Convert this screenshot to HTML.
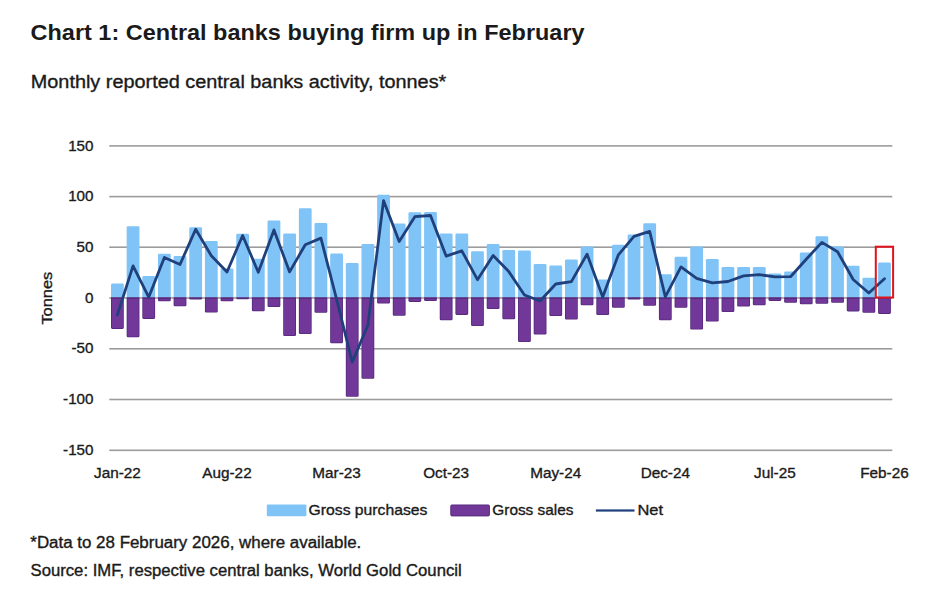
<!DOCTYPE html>
<html><head><meta charset="utf-8"><title>Chart 1</title>
<style>html,body{margin:0;padding:0;background:#fff;}svg{display:block;}text{font-family:"Liberation Sans", sans-serif;}text.r{stroke:#1a1a1a;stroke-width:0.35px;}</style>
</head><body>
<svg width="928" height="590" viewBox="0 0 928 590">
<rect width="928" height="590" fill="#ffffff"/>
<text x="30.6" y="39.7" font-family="Liberation Sans" font-weight="bold" font-size="22.6" fill="#1a1a1a" textLength="554" lengthAdjust="spacingAndGlyphs">Chart 1: Central banks buying firm up in February</text>
<text class="r" x="30.8" y="88.2" font-family="Liberation Sans" font-size="18" fill="#1a1a1a" textLength="415.5" lengthAdjust="spacingAndGlyphs">Monthly reported central banks activity, tonnes*</text>
<rect x="109.3" y="145.10" width="783" height="1.6" fill="#9c9c9c"/>
<text class="r" x="93.5" y="150.50" text-anchor="end" font-family="Liberation Sans" font-size="15.2" fill="#1a1a1a">150</text>
<rect x="109.3" y="195.80" width="783" height="1.6" fill="#9c9c9c"/>
<text class="r" x="93.5" y="201.20" text-anchor="end" font-family="Liberation Sans" font-size="15.2" fill="#1a1a1a">100</text>
<rect x="109.3" y="246.40" width="783" height="1.6" fill="#9c9c9c"/>
<text class="r" x="93.5" y="251.80" text-anchor="end" font-family="Liberation Sans" font-size="15.2" fill="#1a1a1a">50</text>
<rect x="109.3" y="297.20" width="783" height="1.6" fill="#9c9c9c"/>
<text class="r" x="93.5" y="302.60" text-anchor="end" font-family="Liberation Sans" font-size="15.2" fill="#1a1a1a">0</text>
<rect x="109.3" y="348.00" width="783" height="1.6" fill="#9c9c9c"/>
<text class="r" x="93.5" y="353.40" text-anchor="end" font-family="Liberation Sans" font-size="15.2" fill="#1a1a1a">-50</text>
<rect x="109.3" y="398.70" width="783" height="1.6" fill="#9c9c9c"/>
<text class="r" x="93.5" y="404.10" text-anchor="end" font-family="Liberation Sans" font-size="15.2" fill="#1a1a1a">-100</text>
<rect x="109.3" y="449.50" width="783" height="1.6" fill="#9c9c9c"/>
<text class="r" x="93.5" y="454.90" text-anchor="end" font-family="Liberation Sans" font-size="15.2" fill="#1a1a1a">-150</text>
<path d="M111.00,297.60V284.90Q111.00,283.60 112.30,283.60H122.50Q123.80,283.60 123.80,284.90V297.60Z" fill="#80c4f7"/>
<path d="M111.00,297.30V327.60Q111.00,328.90 112.30,328.90H122.50Q123.80,328.90 123.80,327.60V297.30Z" fill="#56297c"/>
<path d="M111.80,298.90V327.10Q111.80,328.10 112.80,328.10H122.00Q123.00,328.10 123.00,327.10V298.90Z" fill="#713899"/>
<path d="M126.66,297.60V227.60Q126.66,226.30 127.95,226.30H138.16Q139.46,226.30 139.46,227.60V297.60Z" fill="#80c4f7"/>
<path d="M126.66,297.30V335.90Q126.66,337.20 127.95,337.20H138.16Q139.46,337.20 139.46,335.90V297.30Z" fill="#56297c"/>
<path d="M127.45,298.90V335.40Q127.45,336.40 128.45,336.40H137.66Q138.66,336.40 138.66,335.40V298.90Z" fill="#713899"/>
<path d="M142.31,297.60V277.20Q142.31,275.90 143.61,275.90H153.81Q155.11,275.90 155.11,277.20V297.60Z" fill="#80c4f7"/>
<path d="M142.31,297.30V317.60Q142.31,318.90 143.61,318.90H153.81Q155.11,318.90 155.11,317.60V297.30Z" fill="#56297c"/>
<path d="M143.11,298.90V317.10Q143.11,318.10 144.11,318.10H153.31Q154.31,318.10 154.31,317.10V298.90Z" fill="#713899"/>
<path d="M157.97,297.60V255.00Q157.97,253.70 159.27,253.70H169.47Q170.77,253.70 170.77,255.00V297.60Z" fill="#80c4f7"/>
<path d="M157.97,297.30V300.00Q157.97,301.30 159.27,301.30H169.47Q170.77,301.30 170.77,300.00V297.30Z" fill="#56297c"/>
<path d="M158.77,298.90V299.50Q158.77,300.50 159.77,300.50H168.97Q169.97,300.50 169.97,299.50V298.90Z" fill="#713899"/>
<path d="M173.62,297.60V257.20Q173.62,255.90 174.92,255.90H185.12Q186.42,255.90 186.42,257.20V297.60Z" fill="#80c4f7"/>
<path d="M173.62,297.30V304.90Q173.62,306.20 174.92,306.20H185.12Q186.42,306.20 186.42,304.90V297.30Z" fill="#56297c"/>
<path d="M174.42,298.90V304.40Q174.42,305.40 175.42,305.40H184.62Q185.62,305.40 185.62,304.40V298.90Z" fill="#713899"/>
<path d="M189.27,297.60V228.50Q189.27,227.20 190.57,227.20H200.77Q202.07,227.20 202.07,228.50V297.60Z" fill="#80c4f7"/>
<path d="M189.27,297.30V298.30Q189.27,299.60 190.57,299.60H200.77Q202.07,299.60 202.07,298.30V297.30Z" fill="#56297c"/>
<path d="M204.93,297.60V242.20Q204.93,240.90 206.23,240.90H216.43Q217.73,240.90 217.73,242.20V297.60Z" fill="#80c4f7"/>
<path d="M204.93,297.30V311.20Q204.93,312.50 206.23,312.50H216.43Q217.73,312.50 217.73,311.20V297.30Z" fill="#56297c"/>
<path d="M205.73,298.90V310.70Q205.73,311.70 206.73,311.70H215.93Q216.93,311.70 216.93,310.70V298.90Z" fill="#713899"/>
<path d="M220.58,297.60V269.70Q220.58,268.40 221.88,268.40H232.08Q233.38,268.40 233.38,269.70V297.60Z" fill="#80c4f7"/>
<path d="M220.58,297.30V299.90Q220.58,301.20 221.88,301.20H232.08Q233.38,301.20 233.38,299.90V297.30Z" fill="#56297c"/>
<path d="M221.38,298.90V299.40Q221.38,300.40 222.38,300.40H231.58Q232.58,300.40 232.58,299.40V298.90Z" fill="#713899"/>
<path d="M236.24,297.60V235.10Q236.24,233.80 237.54,233.80H247.74Q249.04,233.80 249.04,235.10V297.60Z" fill="#80c4f7"/>
<path d="M236.24,297.30V298.00Q236.24,299.30 237.54,299.30H247.74Q249.04,299.30 249.04,298.00V297.30Z" fill="#56297c"/>
<path d="M251.89,297.60V260.00Q251.89,258.70 253.19,258.70H263.39Q264.69,258.70 264.69,260.00V297.60Z" fill="#80c4f7"/>
<path d="M251.89,297.30V309.90Q251.89,311.20 253.19,311.20H263.39Q264.69,311.20 264.69,309.90V297.30Z" fill="#56297c"/>
<path d="M252.69,298.90V309.40Q252.69,310.40 253.69,310.40H262.89Q263.89,310.40 263.89,309.40V298.90Z" fill="#713899"/>
<path d="M267.55,297.60V221.70Q267.55,220.40 268.85,220.40H279.05Q280.35,220.40 280.35,221.70V297.60Z" fill="#80c4f7"/>
<path d="M267.55,297.30V305.80Q267.55,307.10 268.85,307.10H279.05Q280.35,307.10 280.35,305.80V297.30Z" fill="#56297c"/>
<path d="M268.35,298.90V305.30Q268.35,306.30 269.35,306.30H278.55Q279.55,306.30 279.55,305.30V298.90Z" fill="#713899"/>
<path d="M283.20,297.60V234.80Q283.20,233.50 284.50,233.50H294.70Q296.00,233.50 296.00,234.80V297.60Z" fill="#80c4f7"/>
<path d="M283.20,297.30V334.70Q283.20,336.00 284.50,336.00H294.70Q296.00,336.00 296.00,334.70V297.30Z" fill="#56297c"/>
<path d="M284.00,298.90V334.20Q284.00,335.20 285.00,335.20H294.20Q295.20,335.20 295.20,334.20V298.90Z" fill="#713899"/>
<path d="M298.86,297.60V209.65Q298.86,208.35 300.16,208.35H310.36Q311.66,208.35 311.66,209.65V297.60Z" fill="#80c4f7"/>
<path d="M298.86,297.30V332.65Q298.86,333.95 300.16,333.95H310.36Q311.66,333.95 311.66,332.65V297.30Z" fill="#56297c"/>
<path d="M299.66,298.90V332.15Q299.66,333.15 300.66,333.15H309.86Q310.86,333.15 310.86,332.15V298.90Z" fill="#713899"/>
<path d="M314.51,297.60V224.30Q314.51,223.00 315.81,223.00H326.01Q327.31,223.00 327.31,224.30V297.60Z" fill="#80c4f7"/>
<path d="M314.51,297.30V311.40Q314.51,312.70 315.81,312.70H326.01Q327.31,312.70 327.31,311.40V297.30Z" fill="#56297c"/>
<path d="M315.31,298.90V310.90Q315.31,311.90 316.31,311.90H325.51Q326.51,311.90 326.51,310.90V298.90Z" fill="#713899"/>
<path d="M330.17,297.60V254.90Q330.17,253.60 331.47,253.60H341.67Q342.97,253.60 342.97,254.90V297.60Z" fill="#80c4f7"/>
<path d="M330.17,297.30V341.90Q330.17,343.20 331.47,343.20H341.67Q342.97,343.20 342.97,341.90V297.30Z" fill="#56297c"/>
<path d="M330.97,298.90V341.40Q330.97,342.40 331.97,342.40H341.17Q342.17,342.40 342.17,341.40V298.90Z" fill="#713899"/>
<path d="M345.82,297.60V264.30Q345.82,263.00 347.12,263.00H357.32Q358.62,263.00 358.62,264.30V297.60Z" fill="#80c4f7"/>
<path d="M345.82,297.30V395.40Q345.82,396.70 347.12,396.70H357.32Q358.62,396.70 358.62,395.40V297.30Z" fill="#56297c"/>
<path d="M346.62,298.90V394.90Q346.62,395.90 347.62,395.90H356.82Q357.82,395.90 357.82,394.90V298.90Z" fill="#713899"/>
<path d="M361.48,297.60V245.30Q361.48,244.00 362.78,244.00H372.98Q374.28,244.00 374.28,245.30V297.60Z" fill="#80c4f7"/>
<path d="M361.48,297.30V377.50Q361.48,378.80 362.78,378.80H372.98Q374.28,378.80 374.28,377.50V297.30Z" fill="#56297c"/>
<path d="M362.28,298.90V377.00Q362.28,378.00 363.28,378.00H372.48Q373.48,378.00 373.48,377.00V298.90Z" fill="#713899"/>
<path d="M377.13,297.60V196.00Q377.13,194.70 378.44,194.70H388.63Q389.94,194.70 389.94,196.00V297.60Z" fill="#80c4f7"/>
<path d="M377.13,297.30V302.20Q377.13,303.50 378.44,303.50H388.63Q389.94,303.50 389.94,302.20V297.30Z" fill="#56297c"/>
<path d="M377.94,298.90V301.70Q377.94,302.70 378.94,302.70H388.13Q389.13,302.70 389.13,301.70V298.90Z" fill="#713899"/>
<path d="M392.79,297.60V224.70Q392.79,223.40 394.09,223.40H404.29Q405.59,223.40 405.59,224.70V297.60Z" fill="#80c4f7"/>
<path d="M392.79,297.30V314.40Q392.79,315.70 394.09,315.70H404.29Q405.59,315.70 405.59,314.40V297.30Z" fill="#56297c"/>
<path d="M393.59,298.90V313.90Q393.59,314.90 394.59,314.90H403.79Q404.79,314.90 404.79,313.90V298.90Z" fill="#713899"/>
<path d="M408.44,297.60V213.65Q408.44,212.35 409.75,212.35H419.94Q421.25,212.35 421.25,213.65V297.60Z" fill="#80c4f7"/>
<path d="M408.44,297.30V300.60Q408.44,301.90 409.75,301.90H419.94Q421.25,301.90 421.25,300.60V297.30Z" fill="#56297c"/>
<path d="M409.25,298.90V300.10Q409.25,301.10 410.25,301.10H419.44Q420.44,301.10 420.44,300.10V298.90Z" fill="#713899"/>
<path d="M424.10,297.60V213.30Q424.10,212.00 425.40,212.00H435.60Q436.90,212.00 436.90,213.30V297.60Z" fill="#80c4f7"/>
<path d="M424.10,297.30V299.80Q424.10,301.10 425.40,301.10H435.60Q436.90,301.10 436.90,299.80V297.30Z" fill="#56297c"/>
<path d="M424.90,298.90V299.30Q424.90,300.30 425.90,300.30H435.10Q436.10,300.30 436.10,299.30V298.90Z" fill="#713899"/>
<path d="M439.75,297.60V234.80Q439.75,233.50 441.06,233.50H451.25Q452.56,233.50 452.56,234.80V297.60Z" fill="#80c4f7"/>
<path d="M439.75,297.30V318.90Q439.75,320.20 441.06,320.20H451.25Q452.56,320.20 452.56,318.90V297.30Z" fill="#56297c"/>
<path d="M440.56,298.90V318.40Q440.56,319.40 441.56,319.40H450.75Q451.75,319.40 451.75,318.40V298.90Z" fill="#713899"/>
<path d="M455.41,297.60V234.80Q455.41,233.50 456.71,233.50H466.91Q468.21,233.50 468.21,234.80V297.60Z" fill="#80c4f7"/>
<path d="M455.41,297.30V313.60Q455.41,314.90 456.71,314.90H466.91Q468.21,314.90 468.21,313.60V297.30Z" fill="#56297c"/>
<path d="M456.21,298.90V313.10Q456.21,314.10 457.21,314.10H466.41Q467.41,314.10 467.41,313.10V298.90Z" fill="#713899"/>
<path d="M471.06,297.60V252.50Q471.06,251.20 472.37,251.20H482.56Q483.87,251.20 483.87,252.50V297.60Z" fill="#80c4f7"/>
<path d="M471.06,297.30V324.80Q471.06,326.10 472.37,326.10H482.56Q483.87,326.10 483.87,324.80V297.30Z" fill="#56297c"/>
<path d="M471.87,298.90V324.30Q471.87,325.30 472.87,325.30H482.06Q483.06,325.30 483.06,324.30V298.90Z" fill="#713899"/>
<path d="M486.72,297.60V245.40Q486.72,244.10 488.02,244.10H498.22Q499.52,244.10 499.52,245.40V297.60Z" fill="#80c4f7"/>
<path d="M486.72,297.30V307.70Q486.72,309.00 488.02,309.00H498.22Q499.52,309.00 499.52,307.70V297.30Z" fill="#56297c"/>
<path d="M487.52,298.90V307.20Q487.52,308.20 488.52,308.20H497.72Q498.72,308.20 498.72,307.20V298.90Z" fill="#713899"/>
<path d="M502.38,297.60V251.30Q502.38,250.00 503.68,250.00H513.88Q515.17,250.00 515.17,251.30V297.60Z" fill="#80c4f7"/>
<path d="M502.38,297.30V317.90Q502.38,319.20 503.68,319.20H513.88Q515.17,319.20 515.17,317.90V297.30Z" fill="#56297c"/>
<path d="M503.18,298.90V317.40Q503.18,318.40 504.18,318.40H513.38Q514.38,318.40 514.38,317.40V298.90Z" fill="#713899"/>
<path d="M518.03,297.60V251.90Q518.03,250.60 519.33,250.60H529.53Q530.83,250.60 530.83,251.90V297.60Z" fill="#80c4f7"/>
<path d="M518.03,297.30V340.70Q518.03,342.00 519.33,342.00H529.53Q530.83,342.00 530.83,340.70V297.30Z" fill="#56297c"/>
<path d="M518.83,298.90V340.20Q518.83,341.20 519.83,341.20H529.03Q530.03,341.20 530.03,340.20V298.90Z" fill="#713899"/>
<path d="M533.68,297.60V265.35Q533.68,264.05 534.98,264.05H545.18Q546.48,264.05 546.48,265.35V297.60Z" fill="#80c4f7"/>
<path d="M533.68,297.30V333.20Q533.68,334.50 534.98,334.50H545.18Q546.48,334.50 546.48,333.20V297.30Z" fill="#56297c"/>
<path d="M534.48,298.90V332.70Q534.48,333.70 535.48,333.70H544.68Q545.68,333.70 545.68,332.70V298.90Z" fill="#713899"/>
<path d="M549.34,297.60V266.90Q549.34,265.60 550.64,265.60H560.84Q562.14,265.60 562.14,266.90V297.60Z" fill="#80c4f7"/>
<path d="M549.34,297.30V314.70Q549.34,316.00 550.64,316.00H560.84Q562.14,316.00 562.14,314.70V297.30Z" fill="#56297c"/>
<path d="M550.14,298.90V314.20Q550.14,315.20 551.14,315.20H560.34Q561.34,315.20 561.34,314.20V298.90Z" fill="#713899"/>
<path d="M565.00,297.60V260.90Q565.00,259.60 566.29,259.60H576.50Q577.79,259.60 577.79,260.90V297.60Z" fill="#80c4f7"/>
<path d="M565.00,297.30V318.30Q565.00,319.60 566.29,319.60H576.50Q577.79,319.60 577.79,318.30V297.30Z" fill="#56297c"/>
<path d="M565.79,298.90V317.80Q565.79,318.80 566.79,318.80H576.00Q577.00,318.80 577.00,317.80V298.90Z" fill="#713899"/>
<path d="M580.65,297.60V247.80Q580.65,246.50 581.95,246.50H592.15Q593.45,246.50 593.45,247.80V297.60Z" fill="#80c4f7"/>
<path d="M580.65,297.30V303.90Q580.65,305.20 581.95,305.20H592.15Q593.45,305.20 593.45,303.90V297.30Z" fill="#56297c"/>
<path d="M581.45,298.90V303.40Q581.45,304.40 582.45,304.40H591.65Q592.65,304.40 592.65,303.40V298.90Z" fill="#713899"/>
<path d="M596.31,297.60V280.90Q596.31,279.60 597.61,279.60H607.81Q609.11,279.60 609.11,280.90V297.60Z" fill="#80c4f7"/>
<path d="M596.31,297.30V313.80Q596.31,315.10 597.61,315.10H607.81Q609.11,315.10 609.11,313.80V297.30Z" fill="#56297c"/>
<path d="M597.11,298.90V313.30Q597.11,314.30 598.11,314.30H607.31Q608.31,314.30 608.31,313.30V298.90Z" fill="#713899"/>
<path d="M611.96,297.60V246.00Q611.96,244.70 613.26,244.70H623.46Q624.76,244.70 624.76,246.00V297.60Z" fill="#80c4f7"/>
<path d="M611.96,297.30V306.40Q611.96,307.70 613.26,307.70H623.46Q624.76,307.70 624.76,306.40V297.30Z" fill="#56297c"/>
<path d="M612.76,298.90V305.90Q612.76,306.90 613.76,306.90H622.96Q623.96,306.90 623.96,305.90V298.90Z" fill="#713899"/>
<path d="M627.62,297.60V235.70Q627.62,234.40 628.91,234.40H639.12Q640.41,234.40 640.41,235.70V297.60Z" fill="#80c4f7"/>
<path d="M627.62,297.30V298.30Q627.62,299.60 628.91,299.60H639.12Q640.41,299.60 640.41,298.30V297.30Z" fill="#56297c"/>
<path d="M643.27,297.60V224.50Q643.27,223.20 644.57,223.20H654.77Q656.07,223.20 656.07,224.50V297.60Z" fill="#80c4f7"/>
<path d="M643.27,297.30V304.50Q643.27,305.80 644.57,305.80H654.77Q656.07,305.80 656.07,304.50V297.30Z" fill="#56297c"/>
<path d="M644.07,298.90V304.00Q644.07,305.00 645.07,305.00H654.27Q655.27,305.00 655.27,304.00V298.90Z" fill="#713899"/>
<path d="M658.92,297.60V275.60Q658.92,274.30 660.22,274.30H670.42Q671.72,274.30 671.72,275.60V297.60Z" fill="#80c4f7"/>
<path d="M658.92,297.30V318.90Q658.92,320.20 660.22,320.20H670.42Q671.72,320.20 671.72,318.90V297.30Z" fill="#56297c"/>
<path d="M659.72,298.90V318.40Q659.72,319.40 660.72,319.40H669.92Q670.92,319.40 670.92,318.40V298.90Z" fill="#713899"/>
<path d="M674.58,297.60V258.10Q674.58,256.80 675.88,256.80H686.08Q687.38,256.80 687.38,258.10V297.60Z" fill="#80c4f7"/>
<path d="M674.58,297.30V306.40Q674.58,307.70 675.88,307.70H686.08Q687.38,307.70 687.38,306.40V297.30Z" fill="#56297c"/>
<path d="M675.38,298.90V305.90Q675.38,306.90 676.38,306.90H685.58Q686.58,306.90 686.58,305.90V298.90Z" fill="#713899"/>
<path d="M690.24,297.60V247.80Q690.24,246.50 691.53,246.50H701.74Q703.03,246.50 703.03,247.80V297.60Z" fill="#80c4f7"/>
<path d="M690.24,297.30V328.20Q690.24,329.50 691.53,329.50H701.74Q703.03,329.50 703.03,328.20V297.30Z" fill="#56297c"/>
<path d="M691.03,298.90V327.70Q691.03,328.70 692.03,328.70H701.24Q702.24,328.70 702.24,327.70V298.90Z" fill="#713899"/>
<path d="M705.89,297.60V260.30Q705.89,259.00 707.19,259.00H717.39Q718.69,259.00 718.69,260.30V297.60Z" fill="#80c4f7"/>
<path d="M705.89,297.30V320.20Q705.89,321.50 707.19,321.50H717.39Q718.69,321.50 718.69,320.20V297.30Z" fill="#56297c"/>
<path d="M706.69,298.90V319.70Q706.69,320.70 707.69,320.70H716.89Q717.89,320.70 717.89,319.70V298.90Z" fill="#713899"/>
<path d="M721.54,297.60V268.30Q721.54,267.00 722.84,267.00H733.04Q734.34,267.00 734.34,268.30V297.60Z" fill="#80c4f7"/>
<path d="M721.54,297.30V310.80Q721.54,312.10 722.84,312.10H733.04Q734.34,312.10 734.34,310.80V297.30Z" fill="#56297c"/>
<path d="M722.34,298.90V310.30Q722.34,311.30 723.34,311.30H732.54Q733.54,311.30 733.54,310.30V298.90Z" fill="#713899"/>
<path d="M737.20,297.60V268.30Q737.20,267.00 738.50,267.00H748.70Q750.00,267.00 750.00,268.30V297.60Z" fill="#80c4f7"/>
<path d="M737.20,297.30V305.20Q737.20,306.50 738.50,306.50H748.70Q750.00,306.50 750.00,305.20V297.30Z" fill="#56297c"/>
<path d="M738.00,298.90V304.70Q738.00,305.70 739.00,305.70H748.20Q749.20,305.70 749.20,304.70V298.90Z" fill="#713899"/>
<path d="M752.86,297.60V268.30Q752.86,267.00 754.15,267.00H764.36Q765.65,267.00 765.65,268.30V297.60Z" fill="#80c4f7"/>
<path d="M752.86,297.30V303.90Q752.86,305.20 754.15,305.20H764.36Q765.65,305.20 765.65,303.90V297.30Z" fill="#56297c"/>
<path d="M753.65,298.90V303.40Q753.65,304.40 754.65,304.40H763.86Q764.86,304.40 764.86,303.40V298.90Z" fill="#713899"/>
<path d="M768.51,297.60V274.90Q768.51,273.60 769.81,273.60H780.01Q781.31,273.60 781.31,274.90V297.60Z" fill="#80c4f7"/>
<path d="M768.51,297.30V299.60Q768.51,300.90 769.81,300.90H780.01Q781.31,300.90 781.31,299.60V297.30Z" fill="#56297c"/>
<path d="M769.31,298.90V299.10Q769.31,300.10 770.31,300.10H779.51Q780.51,300.10 780.51,299.10V298.90Z" fill="#713899"/>
<path d="M784.16,297.60V272.80Q784.16,271.50 785.46,271.50H795.66Q796.96,271.50 796.96,272.80V297.60Z" fill="#80c4f7"/>
<path d="M784.16,297.30V301.50Q784.16,302.80 785.46,302.80H795.66Q796.96,302.80 796.96,301.50V297.30Z" fill="#56297c"/>
<path d="M784.96,298.90V301.00Q784.96,302.00 785.96,302.00H795.16Q796.16,302.00 796.16,301.00V298.90Z" fill="#713899"/>
<path d="M799.82,297.60V253.80Q799.82,252.50 801.12,252.50H811.32Q812.62,252.50 812.62,253.80V297.60Z" fill="#80c4f7"/>
<path d="M799.82,297.30V303.00Q799.82,304.30 801.12,304.30H811.32Q812.62,304.30 812.62,303.00V297.30Z" fill="#56297c"/>
<path d="M800.62,298.90V302.50Q800.62,303.50 801.62,303.50H810.82Q811.82,303.50 811.82,302.50V298.90Z" fill="#713899"/>
<path d="M815.48,297.60V237.60Q815.48,236.30 816.77,236.30H826.98Q828.27,236.30 828.27,237.60V297.60Z" fill="#80c4f7"/>
<path d="M815.48,297.30V302.40Q815.48,303.70 816.77,303.70H826.98Q828.27,303.70 828.27,302.40V297.30Z" fill="#56297c"/>
<path d="M816.27,298.90V301.90Q816.27,302.90 817.27,302.90H826.48Q827.48,302.90 827.48,301.90V298.90Z" fill="#713899"/>
<path d="M831.13,297.60V247.80Q831.13,246.50 832.43,246.50H842.63Q843.93,246.50 843.93,247.80V297.60Z" fill="#80c4f7"/>
<path d="M831.13,297.30V301.50Q831.13,302.80 832.43,302.80H842.63Q843.93,302.80 843.93,301.50V297.30Z" fill="#56297c"/>
<path d="M831.93,298.90V301.00Q831.93,302.00 832.93,302.00H842.13Q843.13,302.00 843.13,301.00V298.90Z" fill="#713899"/>
<path d="M846.78,297.60V267.00Q846.78,265.70 848.08,265.70H858.28Q859.58,265.70 859.58,267.00V297.60Z" fill="#80c4f7"/>
<path d="M846.78,297.30V310.10Q846.78,311.40 848.08,311.40H858.28Q859.58,311.40 859.58,310.10V297.30Z" fill="#56297c"/>
<path d="M847.58,298.90V309.60Q847.58,310.60 848.58,310.60H857.78Q858.78,310.60 858.78,309.60V298.90Z" fill="#713899"/>
<path d="M862.44,297.60V279.15Q862.44,277.85 863.74,277.85H873.94Q875.24,277.85 875.24,279.15V297.60Z" fill="#80c4f7"/>
<path d="M862.44,297.30V311.50Q862.44,312.80 863.74,312.80H873.94Q875.24,312.80 875.24,311.50V297.30Z" fill="#56297c"/>
<path d="M863.24,298.90V311.00Q863.24,312.00 864.24,312.00H873.44Q874.44,312.00 874.44,311.00V298.90Z" fill="#713899"/>
<path d="M878.09,297.60V263.75Q878.09,262.45 879.39,262.45H889.59Q890.89,262.45 890.89,263.75V297.60Z" fill="#80c4f7"/>
<path d="M878.09,297.30V312.60Q878.09,313.90 879.39,313.90H889.59Q890.89,313.90 890.89,312.60V297.30Z" fill="#56297c"/>
<path d="M878.89,298.90V312.10Q878.89,313.10 879.89,313.10H889.09Q890.09,313.10 890.09,312.10V298.90Z" fill="#713899"/>
<polyline points="117.40,314.90 133.06,265.90 148.71,297.20 164.37,257.40 180.02,264.50 195.68,229.20 211.33,255.80 226.99,272.00 242.64,235.50 258.29,272.30 273.95,229.90 289.61,271.90 305.26,244.70 320.91,238.10 336.57,299.20 352.23,362.10 367.88,325.20 383.53,200.60 399.19,241.50 414.85,216.65 430.50,215.50 446.15,256.10 461.81,250.80 477.47,279.70 493.12,255.50 508.77,271.60 524.43,295.00 540.09,300.95 555.74,284.00 571.39,281.60 587.05,254.10 602.71,297.10 618.36,254.80 634.01,236.40 649.67,231.40 665.32,296.90 680.98,266.90 696.63,278.40 712.29,282.90 727.94,281.50 743.60,275.90 759.25,274.60 774.91,276.90 790.56,276.70 806.22,259.20 821.88,242.40 837.53,251.70 853.18,279.50 868.84,293.05 884.49,278.75" fill="none" stroke="#20407c" stroke-width="2.8" stroke-linejoin="round" stroke-linecap="round"/>
<rect x="875.8" y="246.7" width="17.3" height="50.8" fill="none" stroke="#e3131b" stroke-width="2"/>
<text class="r" x="117.40" y="478.2" text-anchor="middle" font-family="Liberation Sans" font-size="15.3" fill="#1a1a1a">Jan-22</text>
<text class="r" x="226.99" y="478.2" text-anchor="middle" font-family="Liberation Sans" font-size="15.3" fill="#1a1a1a">Aug-22</text>
<text class="r" x="336.57" y="478.2" text-anchor="middle" font-family="Liberation Sans" font-size="15.3" fill="#1a1a1a">Mar-23</text>
<text class="r" x="446.15" y="478.2" text-anchor="middle" font-family="Liberation Sans" font-size="15.3" fill="#1a1a1a">Oct-23</text>
<text class="r" x="555.74" y="478.2" text-anchor="middle" font-family="Liberation Sans" font-size="15.3" fill="#1a1a1a">May-24</text>
<text class="r" x="665.32" y="478.2" text-anchor="middle" font-family="Liberation Sans" font-size="15.3" fill="#1a1a1a">Dec-24</text>
<text class="r" x="774.91" y="478.2" text-anchor="middle" font-family="Liberation Sans" font-size="15.3" fill="#1a1a1a">Jul-25</text>
<text class="r" x="884.49" y="478.2" text-anchor="middle" font-family="Liberation Sans" font-size="15.3" fill="#1a1a1a">Feb-26</text>
<text class="r" transform="translate(52.1,324.6) rotate(-90)" font-family="Liberation Sans" font-size="15.5" fill="#1a1a1a" textLength="52.8" lengthAdjust="spacingAndGlyphs">Tonnes</text>
<rect x="266.8" y="504.5" width="39.6" height="11.7" rx="1" fill="#80c4f7"/>
<text class="r" x="308.6" y="515.0" font-family="Liberation Sans" font-size="15" fill="#1a1a1a" textLength="118.8" lengthAdjust="spacingAndGlyphs">Gross purchases</text>
<rect x="450.8" y="505" width="38.6" height="10.9" rx="1" fill="#713899" stroke="#56297c" stroke-width="1"/>
<text class="r" x="492.3" y="515.0" font-family="Liberation Sans" font-size="15" fill="#1a1a1a" textLength="81.2" lengthAdjust="spacingAndGlyphs">Gross sales</text>
<rect x="595.9" y="509.4" width="38.6" height="2.2" fill="#20407c"/>
<text class="r" x="637.4" y="515.0" font-family="Liberation Sans" font-size="15" fill="#1a1a1a" textLength="25.6" lengthAdjust="spacingAndGlyphs">Net</text>
<text class="r" x="30.3" y="547.7" font-family="Liberation Sans" font-size="15.6" fill="#1a1a1a" textLength="331" lengthAdjust="spacingAndGlyphs">*Data to 28 February 2026, where available.</text>
<text class="r" x="30.5" y="575.5" font-family="Liberation Sans" font-size="15.6" fill="#1a1a1a" textLength="431.2" lengthAdjust="spacingAndGlyphs">Source: IMF, respective central banks, World Gold Council</text>
</svg>
</body></html>
